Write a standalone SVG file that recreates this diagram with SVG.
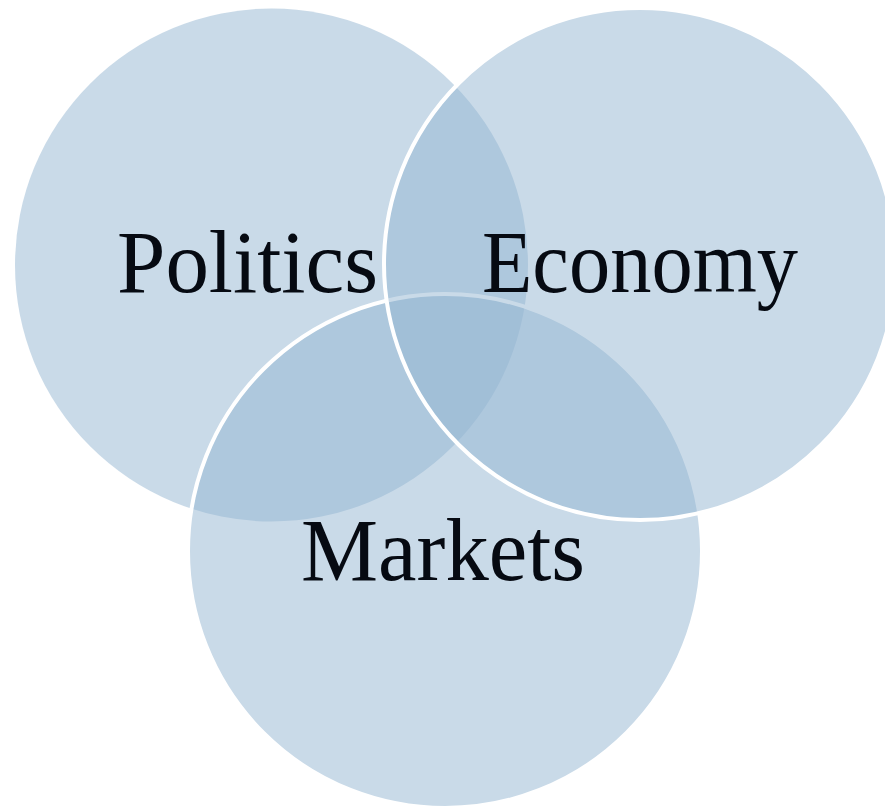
<svg xmlns="http://www.w3.org/2000/svg" width="885" height="809" viewBox="0 0 885 809">
<style>
.c{fill:#94b6d2;fill-opacity:0.5}
.s{stroke:#ffffff;stroke-width:4}
.t{font-family:"Liberation Serif","Times New Roman",serif;font-size:88px;fill:#060a12}
</style>
<rect width="885" height="809" fill="#ffffff"/>
<g id="politics"><circle class="c" cx="271.5" cy="265" r="256.5"/></g>
<g id="markets"><circle class="c s" cx="445" cy="551" r="257"/></g>
<g id="economy"><circle class="c s" cx="640" cy="264" r="256"/></g>
<g id="connectors"></g>
<g id="labels">
<text class="t" x="117" y="292" textLength="261" lengthAdjust="spacingAndGlyphs">Politics</text>
<text class="t" x="482" y="292" textLength="316" lengthAdjust="spacingAndGlyphs">Economy</text>
<text class="t" x="301" y="580" textLength="284" lengthAdjust="spacingAndGlyphs">Markets</text>
</g>
</svg>
